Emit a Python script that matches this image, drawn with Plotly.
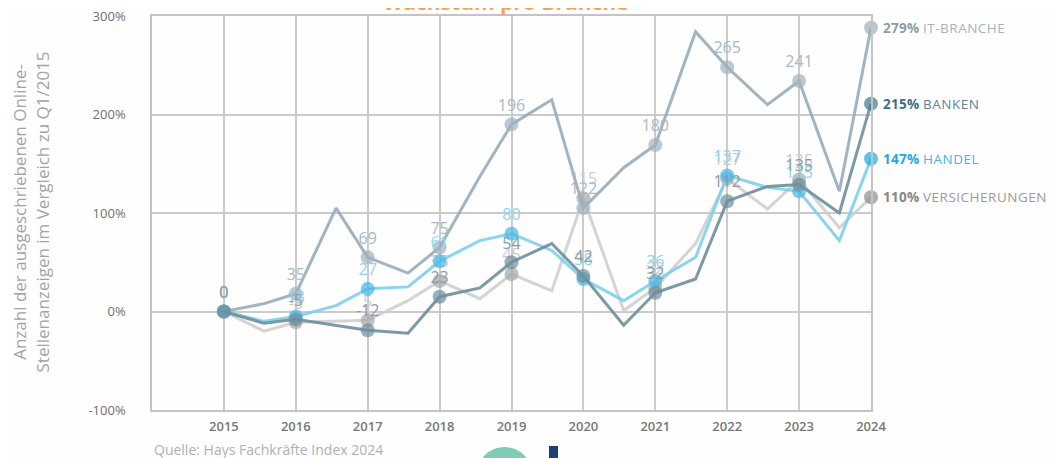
import plotly.graph_objects as go

# ---- data ----
x_points = [2015, 2015.56, 2016, 2016.56, 2017, 2017.56, 2018, 2018.56, 2019, 2019.56,
            2020, 2020.56, 2021, 2021.56, 2022, 2022.56, 2023, 2023.56, 2024]
years = [2015, 2016, 2017, 2018, 2019, 2020, 2021, 2022, 2023, 2024]

it_branche = [0, 8, 18, 105, 55, 39, 65, 137, 190, 215, 105, 146, 169, 284, 248, 210, 234, 122, 288]
banken = [0, -12, -8, -14, -19, -22, 15, 24, 50, 69, 36, -14, 19, 33, 112, 127, 129, 100, 211]
handel = [0, -10, -5, 6, 23, 25, 51, 72, 79, 62, 33, 11, 31, 55, 138, 126, 122, 72, 155]
versicherungen = [0, -20, -11, -10, -9, 11, 31, 13, 38, 21, 115, 1, 24, 69, 135, 104, 134, 85, 116]

it_labels = ["0", "35", "69", "75", "196", "122", "180", "265", "241", ""]
banken_labels = ["0", "-5", "-12", "23", "54", "42", "32", "112", "135", ""]
handel_labels = ["0", "13", "27", "61", "80", "38", "36", "137", "125", ""]
vers_labels = ["0", "-8", "5", "35", "45", "115", "32", "127", "135", ""]

end_values = ["279%", "215%", "147%", "110%"]
series_names = ["IT-BRANCHE", "BANKEN", "HANDEL", "VERSICHERUNGEN"]

y_ticks = [-100, 0, 100, 200, 300]
y_tick_text = ["-100%", "0%", "100%", "200%", "300%"]

FONT = "Open Sans"

fig = go.Figure()


def add_series(values, labels, line_color, marker_color, label_color, end_marker_color):
    texts, sizes, mcolors = [], [], []
    li = 0
    for x in x_points:
        if float(x).is_integer():
            texts.append(labels[li])
            li += 1
            sizes.append(14)
            mcolors.append(end_marker_color if x == 2024 else marker_color)
        else:
            texts.append("")
            sizes.append(0)
            mcolors.append(marker_color)
    fig.add_trace(go.Scatter(
        x=x_points, y=values, mode="lines+markers+text",
        line=dict(color=line_color, width=3),
        marker=dict(size=sizes, color=mcolors, line=dict(width=0)),
        text=texts, textposition="top center",
        textfont=dict(family=FONT, size=16, color=label_color),
        cliponaxis=False, showlegend=False, hoverinfo="skip",
    ))


add_series(versicherungen, vers_labels, "rgba(205,205,205,0.85)", "#a6a6a6", "#cdcdcd", "#8c8c8c")
add_series(it_branche, it_labels, "rgba(150,172,186,0.9)", "#9fb2bf", "#a9b9c5", "#9ab0be")
add_series(handel, handel_labels, "rgba(125,207,238,0.9)", "#45b6e6", "#8dd4ef", "#1eaae6")
add_series(banken, banken_labels, "rgba(110,143,156,0.9)", "#6f8e9b", "#8d9ba3", "#3e7890")

# right-side series labels
name_styles = [("#8a9eab", "#a3b3be"), ("#3f6f84", "#5f8496"), ("#1fa8e0", "#45b5e6"), ("#888888", "#9a9a9a")]
end_ys = [it_branche[-1], banken[-1], handel[-1], versicherungen[-1]]
for val, name, (c1, c2), yv in zip(end_values, series_names, name_styles, end_ys):
    fig.add_annotation(
        x=2024, y=yv, xref="x", yref="y", xanchor="left", yanchor="middle", xshift=10,
        text=(f"<b><span style='color:{c1};letter-spacing:0.3px'>{val}</span></b> "
              f"<span style='color:{c2};letter-spacing:0.5px'>{name}</span>"),
        showarrow=False, font=dict(family=FONT, size=13.5),
    )

# y axis title (two lines)
fig.add_annotation(
    x=-0.169, y=(410 - 212) / 394, xref="paper", yref="paper",
    text="Anzahl der ausgeschriebenen Online-<br>Stellenanzeigen im Vergleich zu Q1/2015",
    textangle=-90, showarrow=False, font=dict(family=FONT, size=17, color="#a3a3a3"),
    xanchor="center", yanchor="middle",
)

# source
fig.add_annotation(
    x=0.0, y=(410 - 449) / 394, xref="paper", yref="paper", xanchor="left", yanchor="middle",
    text="Quelle: Hays Fachkräfte Index 2024", showarrow=False,
    font=dict(family=FONT, size=14, color="#b0b0b0"),
)

# title (cut off at top of frame)
fig.add_annotation(
    x=(505 - 152) / 719, y=(410 - 18) / 394, xref="paper", yref="paper", xanchor="center", yanchor="bottom",
    text="<b>Wachstum pro Branche</b>", showarrow=False,
    font=dict(family=FONT, size=21, color="#f4a261"),
)

# partial logo at bottom
fig.add_shape(type="circle", xref="paper", yref="paper",
              x0=(477 - 152) / 719, x1=(532 - 152) / 719,
              y0=(410 - 502) / 394, y1=(410 - 447) / 394,
              fillcolor="#7fcbb6", line=dict(width=0), layer="above")
fig.add_shape(type="rect", xref="paper", yref="paper",
              x0=(549 - 152) / 719, x1=(558 - 152) / 719,
              y0=(410 - 470) / 394, y1=(410 - 446) / 394,
              fillcolor="#1f3f78", line=dict(width=0), layer="above")

# page body has an 8px margin: figure is 8px smaller and margins shifted accordingly
fig.update_layout(
    width=1050, height=450,
    margin=dict(l=144, r=187, t=8, b=48, autoexpand=False),
    paper_bgcolor="#fefefe", plot_bgcolor="#fefefe",
    font=dict(family=FONT),
    xaxis=dict(
        range=[2014, 2024], tickvals=years, ticktext=[str(y) for y in years],
        showgrid=True, gridcolor="#cbcbcb", gridwidth=1.5, automargin=False,
        showline=True, linecolor="#c4c4c4", linewidth=1.5, mirror=True,
        zeroline=False, ticks="", ticklabelstandoff=4, ticklabeloverflow="allow",
        tickfont=dict(family=FONT, size=13, color="#787878", weight=600),
    ),
    yaxis=dict(
        range=[-100, 300], tickvals=y_ticks, ticktext=y_tick_text,
        showgrid=True, gridcolor="#cbcbcb", gridwidth=1.5, automargin=False,
        showline=True, linecolor="#c4c4c4", linewidth=1.5, mirror=True,
        zeroline=False, ticks="", ticklabelstandoff=22, ticklabeloverflow="allow",
        tickfont=dict(family=FONT, size=13, color="#6e6e6e"),
    ),
)

fig.write_html("out.html")
